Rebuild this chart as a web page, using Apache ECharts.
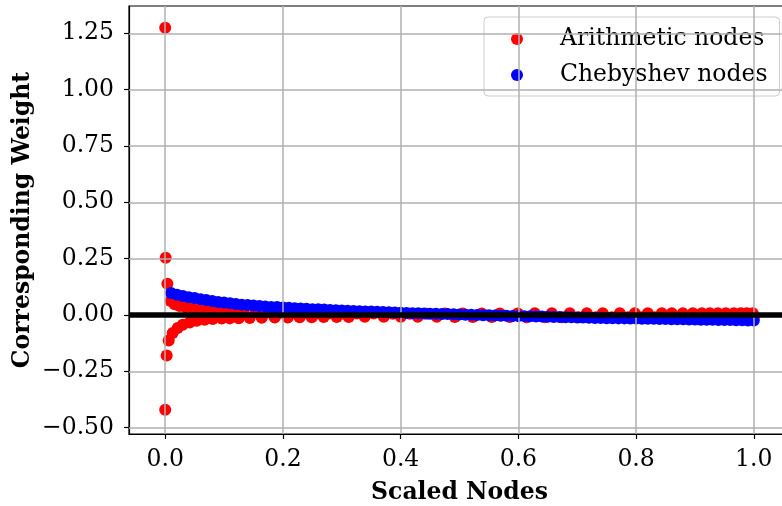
<!DOCTYPE html>
<html>
<head>
<meta charset="utf-8">
<script src="https://cdn.jsdelivr.net/npm/echarts@6/dist/echarts.min.js"></script>
<style>html,body{margin:0;padding:0;background:#fff}#chart{width:782px;height:506px}</style>
</head>
<body>
<div id="chart"></div>
<script>
// ---- data ----
const xTicks = [0, 0.2, 0.4, 0.6, 0.8, 1.0];
const yTicks = [-0.5, -0.25, 0, 0.25, 0.5, 0.75, 1.0, 1.25];

// Arithmetic nodes: positive (upper) and negative (lower) branches
const arithUpperX = [0.0, 0.0008, 0.0037, 0.0093, 0.0161, 0.0246, 0.0348, 0.0467, 0.0603, 0.0739,
  0.0875, 0.1028, 0.1164, 0.1334, 0.1538, 0.1742, 0.1963, 0.2184, 0.2388, 0.2591,
  0.2795, 0.3016, 0.3254, 0.3543, 0.3866, 0.4155, 0.4444, 0.4749, 0.5055, 0.5378,
  0.5684, 0.5990, 0.6279, 0.6568, 0.6874, 0.7163, 0.7434, 0.7723, 0.7978, 0.8199,
  0.8437, 0.8607, 0.8794, 0.8964, 0.9117, 0.9252, 0.9388, 0.9524, 0.9660, 0.9779,
  0.9881, 0.9983];
const arithUpperY = [1.275, 0.254, 0.139, 0.062, 0.048, 0.040, 0.034, 0.029, 0.025, 0.022,
  0.019, 0.017, 0.015, 0.013, 0.012, 0.011, 0.010, 0.009, 0.009, 0.008,
  0.008, 0.007, 0.007, 0.007, 0.006, 0.006, 0.006, 0.007, 0.007, 0.007,
  0.007, 0.007, 0.008, 0.008, 0.008, 0.008, 0.008, 0.008, 0.008, 0.008,
  0.008, 0.008, 0.008, 0.008, 0.008, 0.008, 0.008, 0.008, 0.008, 0.008,
  0.008, 0.008];
const arithLowerX = [0.0, 0.0025, 0.006, 0.0127, 0.0212, 0.0297, 0.0416, 0.0535, 0.0671, 0.0807,
  0.0960, 0.1096, 0.1249, 0.1436, 0.1640, 0.1861, 0.2082, 0.2285, 0.2489, 0.2693,
  0.2914, 0.3118, 0.3390, 0.3713, 0.4002, 0.4291, 0.4614, 0.4920, 0.5225, 0.5548,
  0.5854, 0.6143, 0.6449, 0.6738, 0.7027, 0.7315, 0.7587, 0.7859, 0.8097, 0.8318,
  0.8522, 0.8709, 0.8879, 0.9032, 0.9185, 0.9320, 0.9456, 0.9592, 0.9711, 0.9830,
  0.9932, 1.0];
const arithLowerY = [-0.42, -0.18, -0.113, -0.08, -0.058, -0.043, -0.033, -0.026, -0.021, -0.018,
  -0.016, -0.015, -0.014, -0.013, -0.012, -0.011, -0.011, -0.010, -0.010, -0.009,
  -0.009, -0.009, -0.008, -0.008, -0.008, -0.008, -0.008, -0.009, -0.009, -0.009,
  -0.009, -0.010, -0.010, -0.010, -0.010, -0.010, -0.010, -0.010, -0.010, -0.010,
  -0.010, -0.010, -0.010, -0.010, -0.010, -0.010, -0.010, -0.010, -0.010, -0.010,
  -0.010, -0.010];

// Chebyshev nodes
const chebX = [0.01, 0.02, 0.03, 0.04, 0.05, 0.06, 0.07, 0.08, 0.09, 0.10,
  0.11, 0.12, 0.13, 0.14, 0.15, 0.16, 0.17, 0.18, 0.19, 0.20,
  0.21, 0.22, 0.23, 0.24, 0.25, 0.26, 0.27, 0.28, 0.29, 0.30,
  0.31, 0.32, 0.33, 0.34, 0.35, 0.36, 0.37, 0.38, 0.39, 0.40,
  0.41, 0.42, 0.43, 0.44, 0.45, 0.46, 0.47, 0.48, 0.49, 0.50,
  0.51, 0.52, 0.53, 0.54, 0.55, 0.56, 0.57, 0.58, 0.59, 0.60,
  0.61, 0.62, 0.63, 0.64, 0.65, 0.66, 0.67, 0.68, 0.69, 0.70,
  0.71, 0.72, 0.73, 0.74, 0.75, 0.76, 0.77, 0.78, 0.79, 0.80,
  0.81, 0.82, 0.83, 0.84, 0.85, 0.86, 0.87, 0.88, 0.89, 0.90,
  0.91, 0.92, 0.93, 0.94, 0.95, 0.96, 0.97, 0.98, 0.99, 1.00];
const chebY = [0.098, 0.090, 0.084, 0.079, 0.075, 0.070, 0.066, 0.062, 0.058, 0.055,
  0.052, 0.049, 0.046, 0.044, 0.042, 0.040, 0.038, 0.036, 0.035, 0.033,
  0.032, 0.030, 0.029, 0.028, 0.026, 0.025, 0.024, 0.022, 0.021, 0.020,
  0.019, 0.018, 0.017, 0.016, 0.015, 0.014, 0.013, 0.012, 0.011, 0.010,
  0.009, 0.008, 0.008, 0.007, 0.006, 0.005, 0.004, 0.004, 0.003, 0.002,
  0.001, 0.001, 0.000, -0.001, -0.001, -0.002, -0.003, -0.003, -0.004, -0.005,
  -0.005, -0.006, -0.007, -0.007, -0.008, -0.009, -0.009, -0.010, -0.010, -0.011,
  -0.011, -0.012, -0.013, -0.013, -0.014, -0.014, -0.015, -0.015, -0.016, -0.016,
  -0.017, -0.017, -0.017, -0.018, -0.018, -0.019, -0.019, -0.019, -0.020, -0.020,
  -0.021, -0.021, -0.021, -0.022, -0.022, -0.022, -0.023, -0.023, -0.024, -0.024];

const refLineY = 0;

// ---- build ----
const FONT = '"DejaVu Serif", "Liberation Serif", serif';
const FS = 23.5;
const zip = (xs, ys) => xs.map((x, i) => [x, ys[i]]);
const arithData = zip(arithUpperX, arithUpperY).concat(zip(arithLowerX, arithLowerY));
const chebData = zip(chebX, chebY);
const minus = s => s.replace('-', '\u2212');

const gridLineStyle = { color: '#b0b0b0', width: 1.5, type: 'solid' };

const chart = echarts.init(document.getElementById('chart'), null, { renderer: 'canvas' });
chart.setOption({
  animation: false,
  backgroundColor: '#ffffff',
  grid: {
    left: 129, top: 6, width: 661, height: 428,
    outerBoundsMode: 'none', containLabel: false,
    show: true, borderColor: '#000', borderWidth: 1.2, backgroundColor: 'transparent'
  },
  xAxis: {
    type: 'value', min: -0.0615, max: 1.0615,
    name: 'Scaled Nodes', nameLocation: 'middle', nameGap: 47, nameMoveOverlap: false,
    nameTextStyle: { fontFamily: FONT, fontSize: FS, fontWeight: 'bold', color: '#000' },
    axisLine: { show: true, onZero: false, lineStyle: { color: '#000', width: 1.2 } },
    axisTick: { show: true, length: 5, customValues: xTicks, lineStyle: { color: '#000', width: 1.2 } },
    axisLabel: { customValues: xTicks, margin: 14, fontFamily: FONT, fontSize: FS, color: '#000',
      formatter: v => minus(Number(v).toFixed(1)) },
    splitLine: { show: false }
  },
  yAxis: {
    type: 'value', min: -0.528, max: 1.371,
    name: 'Corresponding Weight', nameLocation: 'middle', nameGap: 94, nameMoveOverlap: false,
    nameTextStyle: { fontFamily: FONT, fontSize: FS, fontWeight: 'bold', color: '#000' },
    axisLine: { show: true, onZero: false, lineStyle: { color: '#000', width: 1.2 } },
    axisTick: { show: true, length: 5, customValues: yTicks, lineStyle: { color: '#000', width: 1.2 } },
    axisLabel: { customValues: yTicks, margin: 15, fontFamily: FONT, fontSize: FS, color: '#000',
      formatter: v => minus(Number(v).toFixed(2)) },
    splitLine: { show: false }
  },
  legend: {
    orient: 'vertical', left: 484, top: 17,
    padding: [10, 12, 9, 27], itemWidth: 12, itemHeight: 12, itemGap: 12,
    backgroundColor: 'rgba(255,255,255,0.8)', borderColor: '#cccccc', borderWidth: 1, borderRadius: 4,
    textStyle: { fontFamily: FONT, fontSize: FS, color: '#000', padding: [0, 0, 0, 32] },
    data: [{ name: 'Arithmetic nodes', icon: 'circle' }, { name: 'Chebyshev nodes', icon: 'circle' }]
  },
  series: [
    {
      name: 'grid', type: 'scatter', data: [], z: 0, silent: true,
      markLine: {
        silent: true, symbol: ['none', 'none'], label: { show: false }, animation: false,
        lineStyle: gridLineStyle,
        data: xTicks.map(v => ({ xAxis: v })).concat(yTicks.map(v => ({ yAxis: v })))
      }
    },
    {
      name: 'Arithmetic nodes', type: 'scatter', data: arithData, symbolSize: 12, z: 2,
      clip: false, itemStyle: { color: '#ff0000', opacity: 1 }
    },
    {
      name: 'Chebyshev nodes', type: 'scatter', data: chebData, symbolSize: 12, z: 3,
      clip: false, itemStyle: { color: '#0000ff', opacity: 1 }
    },
    {
      name: 'zero', type: 'scatter', data: [], z: 4, silent: true,
      markLine: {
        silent: true, symbol: ['none', 'none'], label: { show: false }, animation: false,
        lineStyle: { color: '#000', width: 5.5, type: 'solid' },
        data: [{ yAxis: refLineY }]
      }
    }
  ]
});
</script>
</body>
</html>
